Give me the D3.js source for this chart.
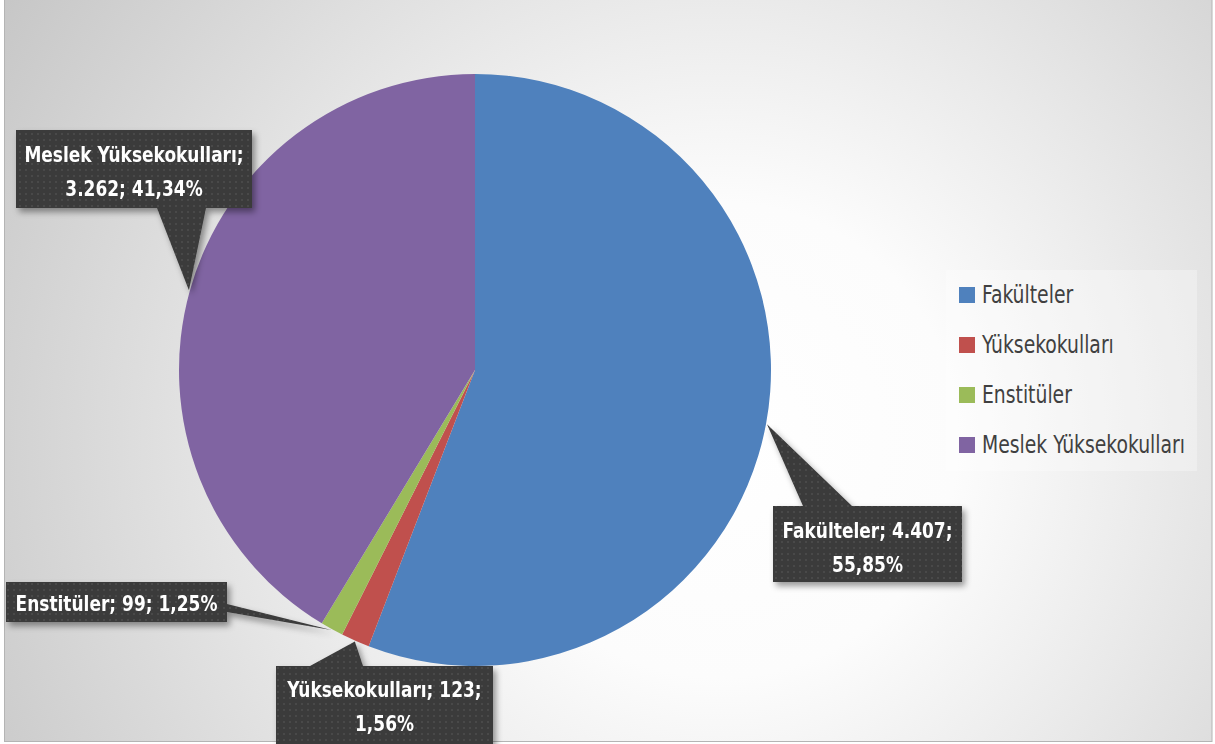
<!DOCTYPE html>
<html lang="tr">
<head>
<meta charset="UTF-8">
<title>Birim dağılımı</title>
<script src="https://d3js.org/d3.v7.min.js"></script>
<style>
  body { margin: 0; }
  text { font-family: "DejaVu Sans Condensed", "Liberation Sans Narrow", sans-serif; }
</style>
</head>
<body>
<script>
  // veri
  var categories = ['Fakülteler', 'Yüksekokulları', 'Enstitüler', 'Meslek Yüksekokulları']
  var values = [4407, 123, 99, 3262]
  var colors = ['#4f81bd', '#c0504d', '#9bbb59', '#8064a2']

  var width = 1215, height = 744
  var cx = 475, cy = 370, radius = 296

  // kutu yerleşimi: x, y, genişlik, yükseklik, okun taban noktaları (kutuya göre)
  var boxes = [
    { x: 773, y: 506, w: 189, h: 76, ty: 32, base: [[30, 0], [79, 0]] },
    { x: 276, y: 666, w: 217, h: 84, ty: 31, base: [[34, 0], [87, 0]] },
    { x: 6, y: 582, w: 221, h: 40, ty: 29, base: [[221, 22], [221, 30]] },
    { x: 16, y: 130, w: 236, h: 78, ty: 32, base: [[141, 78], [190, 78]] }
  ]

  var total = d3.sum(values)
  var fmtNum = function (v) { return d3.format(',')(v).replace(/,/g, '.') }
  var fmtPct = function (v) { return d3.format('.2%')(v).replace('.', ',') }

  var svg = d3.select('body').append('svg').attr('width', width).attr('height', height)
  var defs = svg.append('defs')

  var bg = defs.append('radialGradient').attr('id', 'bg')
    .attr('gradientUnits', 'userSpaceOnUse').attr('cx', 720).attr('cy', 440).attr('r', 950)
  bg.append('stop').attr('offset', '0').attr('stop-color', '#ffffff')
  bg.append('stop').attr('offset', '0.25').attr('stop-color', '#fcfcfc')
  bg.append('stop').attr('offset', '1').attr('stop-color', '#bdbdbd')

  // noktalı doku
  var pat = defs.append('pattern').attr('id', 'dots').attr('width', 6).attr('height', 6)
    .attr('patternUnits', 'userSpaceOnUse')
  pat.append('rect').attr('width', 6).attr('height', 6).attr('fill', '#3a3a3a')
  pat.append('rect').attr('x', 1).attr('y', 1).attr('width', 2).attr('height', 2).attr('fill', '#4a4a4a')

  var shadow = defs.append('filter').attr('id', 'shadow')
    .attr('x', '-20%').attr('y', '-20%').attr('width', '140%').attr('height', '150%')
  shadow.append('feDropShadow').attr('dx', 3).attr('dy', 4).attr('stdDeviation', 3)
    .attr('flood-color', '#000').attr('flood-opacity', 0.4)

  svg.append('rect').attr('x', 4.5).attr('y', -1).attr('width', 1207.5).attr('height', 742.5)
    .attr('fill', 'url(#bg)').attr('stroke', '#b4b4b4').attr('stroke-width', 1)

  // pasta
  var pie = d3.pie().sort(null).value(function (d) { return d })
  var arcs = pie(values)
  var arc = d3.arc().innerRadius(0).outerRadius(radius)

  var g = svg.append('g').attr('transform', 'translate(' + cx + ',' + cy + ')')
  g.selectAll('path.slice').data(arcs).enter().append('path')
    .attr('class', 'slice')
    .attr('d', arc)
    .attr('fill', function (d, i) { return colors[i] })

  // legend
  var lg = svg.append('g')
  lg.append('rect').attr('x', 946).attr('y', 270).attr('width', 251).attr('height', 201)
    .attr('fill', '#ffffff').attr('fill-opacity', 0.3)
  var item = lg.selectAll('g.item').data(categories).enter().append('g')
    .attr('class', 'item')
    .attr('transform', function (d, i) { return 'translate(959,' + (295 + i * 50) + ')' })
  item.append('rect').attr('x', 0).attr('y', -8).attr('width', 16).attr('height', 16)
    .attr('fill', function (d, i) { return colors[i] })
  item.append('text').attr('transform', 'translate(23,8) scale(0.87,1)').attr('font-size', 24)
    .attr('fill', '#404040').text(function (d) { return d })

  // etiketler
  arcs.forEach(function (a, i) {
    var b = boxes[i]
    var mid = (a.startAngle + a.endAngle) / 2
    var tip = [cx + Math.sin(mid) * (radius + 1), cy - Math.cos(mid) * (radius + 1)]
    var lab = svg.append('g').attr('filter', 'url(#shadow)')
    var p0 = [b.x + b.base[0][0], b.y + b.base[0][1]]
    var p1 = [b.x + b.base[1][0], b.y + b.base[1][1]]
    lab.append('path')
      .attr('d', 'M' + b.x + ',' + b.y + 'h' + b.w + 'v' + b.h + 'h' + (-b.w) + 'Z' +
        'M' + p0 + 'L' + tip + 'L' + p1 + 'Z')
      .attr('fill', 'url(#dots)')
    var name = categories[i], v = fmtNum(values[i]), p = fmtPct(values[i] / total)
    var lines
    if (i === 2) lines = [name + '; ' + v + '; ' + p]
    else if (i === 3) lines = [name + ';', v + '; ' + p]
    else lines = [name + '; ' + v + ';', p]
    var t = lab.append('text').attr('text-anchor', 'middle').attr('fill', '#ffffff')
      .attr('font-size', 22).attr('font-weight', 'bold')
      .attr('transform', 'translate(' + (b.x + b.w / 2) + ',' + (b.y + b.ty) + ') scale(0.86,1)')
    lines.forEach(function (s, k) {
      t.append('tspan').attr('x', 0).attr('y', k * 34).text(s)
    })
  })
</script>
</body>
</html>
